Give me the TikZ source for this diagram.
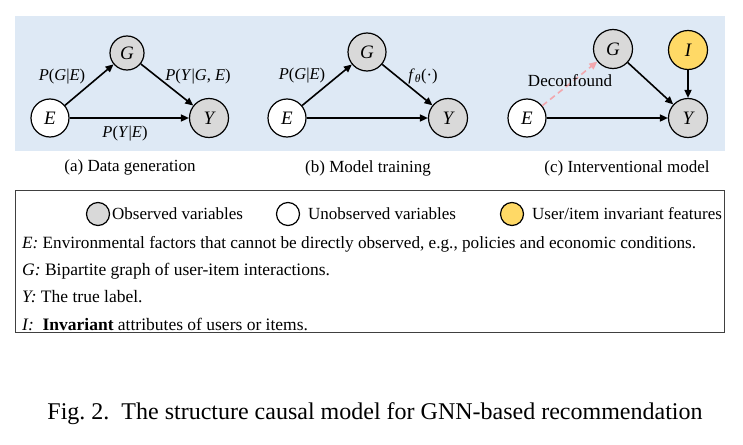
\documentclass[tikz,border=0pt]{standalone}
\usepackage{fontspec}
\setmainfont{Liberation Serif}
\usetikzlibrary{arrows.meta}
\definecolor{bgblue}{HTML}{DEE9F5}
\definecolor{obsgray}{HTML}{D9D9D9}
\definecolor{invyellow}{HTML}{FFD966}
\definecolor{pinkdash}{HTML}{F2A7AE}
\begin{document}
\begin{tikzpicture}[x=1pt,y=-1pt,
  var/.style={circle,draw=black,line width=1.2pt,inner sep=0pt,font=\fontsize{19}{19}\selectfont\itshape},
  obsv/.style={var,fill=obsgray},
  unobsv/.style={var,fill=white},
  invv/.style={var,fill=invyellow},
  arr/.style={-{Triangle[length=8pt,width=7pt]},line width=1.6pt},
  darr/.style={-{Triangle[length=8pt,width=7pt]},line width=1.6pt,pinkdash,dash pattern=on 6pt off 4pt},
  elab/.style={font=\fontsize{16.5}{16.5}\selectfont,inner sep=0pt},
  capt/.style={font=\fontsize{17}{17}\selectfont,inner sep=0pt},
  legc/.style={circle,draw=black,line width=1.2pt,minimum size=23pt,inner sep=0pt},
  legt/.style={font=\fontsize{17}{17}\selectfont,inner sep=0pt,anchor=west},
  legl/.style={font=\fontsize{17.5}{17.5}\selectfont,inner sep=0pt,anchor=west}
]
\useasboundingbox (0,0) rectangle (743,444);
\fill[bgblue] (15,16) rectangle (725,151);
% panel (a)
\node[obsv,minimum size=34pt] (ga) at (127,53) {G};
\node[unobsv,minimum size=38pt] (ea) at (50,118) {E};
\node[obsv,minimum size=39pt] (ya) at (209,118) {Y};
\draw[arr] (ea) -- (ga);
\draw[arr] (ga) -- (ya);
\draw[arr] (ea) -- (ya);
\node[elab] (la1) at (62,77) {\textit{P}(\textit{G}|\textit{E})};
\node[elab] (la2) at (198,77) {\textit{P}(\textit{Y}|\textit{G}, \textit{E})};
\node[elab] (la3) at (125,134) {\textit{P}(\textit{Y}|\textit{E})};
\node[capt] (ca) at (130,167) {(a) Data generation};
% panel (b)
\node[obsv,minimum size=38pt] (gb) at (367,52) {G};
\node[unobsv,minimum size=38pt] (eb) at (287,118) {E};
\node[obsv,minimum size=39pt] (yb) at (448,118) {Y};
\draw[arr] (eb) -- (gb);
\draw[arr] (gb) -- (yb);
\draw[arr] (eb) -- (yb);
\node[elab] (lb1) at (302,76) {\textit{P}(\textit{G}|\textit{E})};
\node[elab] (lb2) at (423,76) {\textit{f}\textsubscript{\textit{θ}}(·)};
\node[capt] (cb) at (368,168) {(b) Model training};
% panel (c)
\node[obsv,minimum size=39pt] (gc) at (613,49) {G};
\node[invv,minimum size=39pt] (ic) at (688,50) {I};
\node[unobsv,minimum size=38pt] (ec) at (527,118) {E};
\node[obsv,minimum size=39pt] (yc) at (688,118) {Y};
\draw[darr] (ec) -- (gc);
\draw[arr] (gc) -- (yc);
\draw[arr] (ec) -- (yc);
\draw[arr] (ic) -- (yc);
\node[elab,font=\fontsize{17}{17}\selectfont] (dc) at (570,81) {Deconfound};
\node[capt] (cc) at (627,168) {(c) Interventional model};
% legend
\draw[line width=1pt,draw=black!75] (15,190) rectangle (724,332);
\node[legc,fill=obsgray] (l1) at (98,214) {};
\node[legt] (t1) at (112,214) {Observed variables};
\node[legc,fill=white] (l2) at (288,214) {};
\node[legt] (t2) at (308,214) {Unobserved variables};
\node[legc,fill=invyellow] (l3) at (512,214) {};
\node[legt] (t3) at (532,214) {User/item invariant features};
\node[legl,font=\fontsize{17.2}{17.2}\selectfont] (e1) at (22,244) {\textit{E:} Environmental factors that cannot be directly observed, e.g., policies and economic conditions.};
\node[legl] (e2) at (22,271) {\textit{G:} Bipartite graph of user-item interactions.};
\node[legl] (e3) at (22,297) {\textit{Y:} The true label.};
\node[legl] (e4) at (22,324) {\textit{I:}\ \ \textbf{Invariant} attributes of users or items.};
% figure caption
\node[font=\fontsize{24}{24}\selectfont,inner sep=0pt] (fig) at (375,414) {Fig.~2.\ \ The structure causal model for GNN-based recommendation};
\end{tikzpicture}
\end{document}
